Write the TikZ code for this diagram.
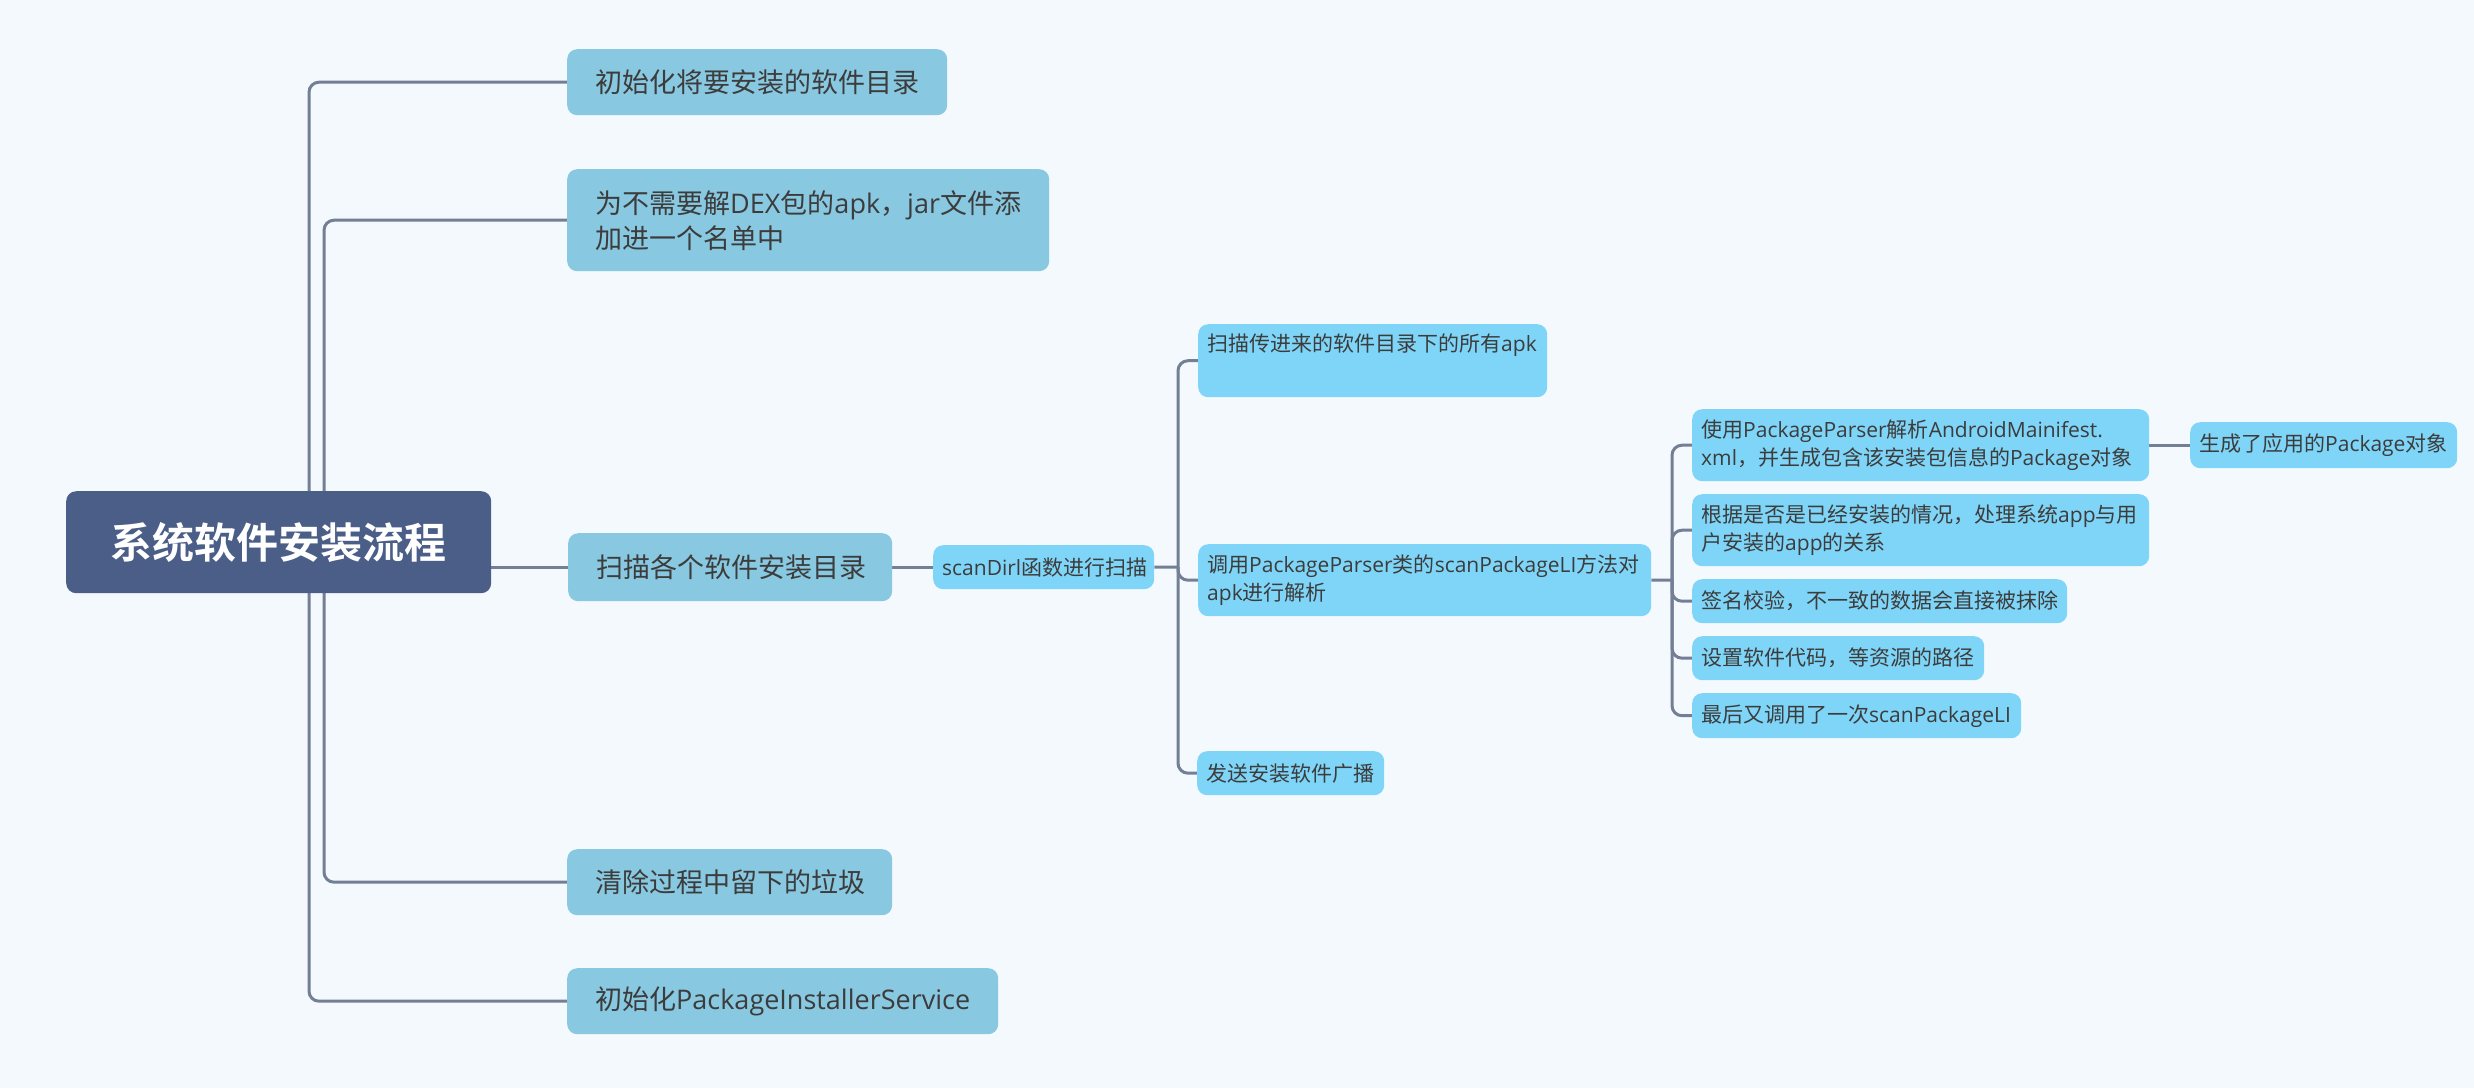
\documentclass[tikz,border=0pt]{standalone}
\usepackage{fontspec}
\setmainfont{Open Sans}
\newfontfamily\cjk{Noto Sans CJK SC}[BoldFont={Noto Sans CJK SC Bold}]
\newcommand\zh[1]{{\cjk #1}}
\definecolor{bgc}{HTML}{F4F9FE}
\definecolor{rootc}{HTML}{4A5E87}
\definecolor{lonec}{HTML}{88C8E0}
\definecolor{ltwoc}{HTML}{7FD5F7}
\definecolor{linec}{HTML}{737F94}
\definecolor{txtc}{HTML}{3C3C3C}
\pgfdeclarelayer{back}
\pgfdeclarelayer{lines}
\pgfsetlayers{back,lines,main}
\tikzset{
  rootbox/.style={draw=none, fill=rootc, rounded corners=10pt, anchor=north west,
    minimum width=425pt, minimum height=102pt, inner sep=0pt, text=white,
    font=\fontsize{42}{50}\selectfont\cjk\bfseries},
  lone/.style={draw=none, fill=lonec, rounded corners=10pt, anchor=north west,
    inner xsep=28pt, inner ysep=0pt, align=left, text=txtc,
    font=\fontsize{27}{35}\selectfont},
  ltwo/.style={draw=none, fill=ltwoc, rounded corners=10pt, anchor=north west,
    inner xsep=9pt, inner ysep=0pt, align=left, text=txtc,
    font=\fontsize{21}{28}\selectfont},
  conn/.style={draw=linec, line width=3pt, rounded corners=10pt},
}
\begin{document}
\begin{tikzpicture}[x=1pt,y=-1pt]
\begin{pgfonlayer}{back}
\fill[bgc] (0,0) rectangle (2474,1088);
\end{pgfonlayer}
\useasboundingbox (0,0) rectangle (2474,1088);

\node[rootbox] (root) at (66,491) {系统软件安装流程};

\node[lone, text width=324pt, minimum height=66pt] (n1) at (567,49) {\zh{初始化将要安装的软件目录}};
\node[lone, text width=426pt, minimum height=102pt] (n2) at (567,169) {\zh{为不需要解}DEX\zh{包的}apk\zh{，}jar\zh{文件添}\\\zh{加进一个名单中}};
\node[lone, text width=268pt, minimum height=68pt] (n3) at (568,533) {\zh{扫描各个软件安装目录}};
\node[lone, text width=269pt, minimum height=66pt] (n4) at (567,849) {\zh{清除过程中留下的垃圾}};
\node[lone, text width=375pt, minimum height=66pt] (n5) at (567,968) {\zh{初始化}PackageInstallerService};

\node[ltwo, text width=203pt, minimum height=44pt] (scan) at (933,545) {scanDirl\zh{函数进行扫描}};
\node[ltwo, text width=331pt, minimum height=73pt] (s1) at (1198,324) {\zh{扫描传进来的软件目录下的所有}apk\\\strut};
\node[ltwo, text width=435pt, minimum height=72pt] (s2) at (1198,544) {\zh{调用}PackageParser\zh{类的}scanPackageLI\zh{方法对}\\apk\zh{进行解析}};
\node[ltwo, text width=169pt, minimum height=44pt] (s3) at (1197,751) {\zh{发送安装软件广播}};

\node[ltwo, text width=439pt, minimum height=72pt] (t1) at (1692,409) {\zh{使用}PackageParser\zh{解析}AndroidMainifest.\\xml\zh{，并生成包含该安装包信息的}Package\zh{对象}};
\node[ltwo, text width=439pt, minimum height=72pt] (t2) at (1692,494) {\zh{根据是否是已经安装的情况，处理系统}app\zh{与用}\\\zh{户安装的}app\zh{的关系}};
\node[ltwo, text width=357pt, minimum height=44pt] (t3) at (1692,579) {\zh{签名校验，不一致的数据会直接被抹除}};
\node[ltwo, text width=274pt, minimum height=44pt] (t4) at (1692,636) {\zh{设置软件代码，等资源的路径}};
\node[ltwo, text width=311pt, minimum height=45pt] (t5) at (1692,693) {\zh{最后又调用了一次}scanPackageLI};
\node[ltwo, text width=249pt, minimum height=46pt] (u1) at (2190,422) {\zh{生成了应用的}Package\zh{对象}};

\coordinate (ra) at (309,542);
\coordinate (rb) at (324,542);
\coordinate (sj) at (1178,567);
\coordinate (tj) at (1672,580);

\begin{pgfonlayer}{lines}
\draw[conn] (ra) |- (n1.west);
\draw[conn] (rb) |- (n2.west);
\draw[conn] (root.east |- n3.west) -- (n3.west);
\draw[conn] (rb) |- (n4.west);
\draw[conn] (ra) |- (n5.west);
\draw[conn] (n3.east) -- (scan.west);
\draw[conn] (scan.east) -- (sj);
\draw[conn] (sj) |- (s1.west);
\draw[conn] (sj) |- (s2.west);
\draw[conn] (sj) |- (s3.west);
\draw[conn] (s2.east) -- (tj);
\draw[conn] (tj) |- (t1.west);
\draw[conn] (tj) |- (t2.west);
\draw[conn] (tj) |- (t3.west);
\draw[conn] (tj) |- (t4.west);
\draw[conn] (tj) |- (t5.west);
\draw[conn] (t1.east) -- (u1.west);
\end{pgfonlayer}
\end{tikzpicture}
\end{document}
